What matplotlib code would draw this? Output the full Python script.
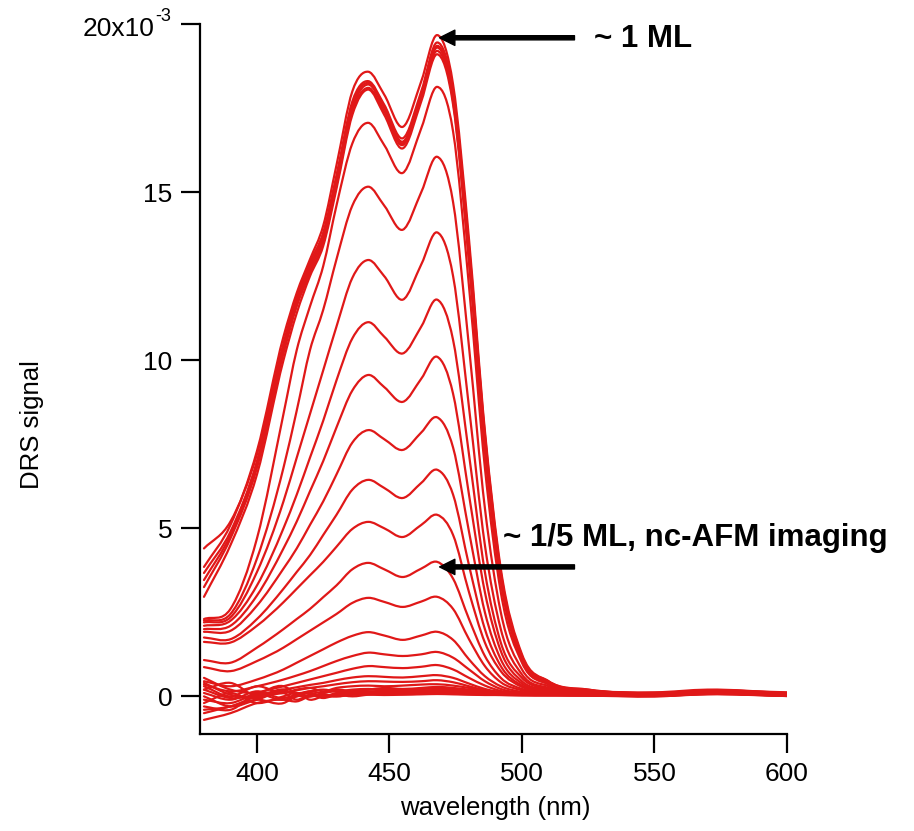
import numpy as np
import matplotlib
matplotlib.use('Agg')
import matplotlib.pyplot as plt
from matplotlib.path import Path
from matplotlib.patches import PathPatch

plt.rcParams['font.family'] = ['Liberation Sans', 'DejaVu Sans']

wavelength = [380, 390, 400, 410, 415, 420, 425, 430, 436, 442, 448, 455,
              462, 468, 474, 480, 486, 492, 500, 510, 525, 550, 570, 600]

# DRS signal in units of 1e-3
# ~1 ML curves (top bundle)
top_curves = [
    [3.85, 5.1, 7.3, 10.7, 12.0, 13.0, 14.0, 15.8, 18.0, 18.58, 17.9, 16.94,
     18.3, 19.67, 18.2, 13.6, 7.9, 3.8, 1.25, 0.45, 0.2, 0.12, 0.2, 0.1],
    [4.4, 5.2, 7.2, 10.5, 11.9, 12.9, 13.8, 15.5, 17.7, 18.3, 17.6, 16.6,
     18.0, 19.45, 18.0, 13.4, 7.8, 3.7, 1.2, 0.45, 0.2, 0.1, 0.18, 0.1],
    [3.67, 4.9, 7.0, 10.4, 11.8, 12.8, 13.7, 15.4, 17.6, 18.25, 17.55, 16.5,
     17.9, 19.35, 17.9, 13.3, 7.7, 3.6, 1.15, 0.42, 0.18, 0.08, 0.16, 0.08],
    [3.46, 4.8, 6.9, 10.3, 11.7, 12.7, 13.6, 15.3, 17.5, 18.2, 17.5, 16.45,
     17.85, 19.3, 17.8, 13.2, 7.6, 3.6, 1.1, 0.4, 0.15, 0.05, 0.14, 0.05],
    [3.25, 4.7, 6.8, 10.2, 11.6, 12.6, 13.5, 15.2, 17.4, 18.1, 17.4, 16.4,
     17.8, 19.2, 17.7, 13.0, 7.4, 3.5, 1.1, 0.4, 0.18, 0.1, 0.17, 0.12],
    [2.96, 4.5, 6.6, 10.0, 11.4, 12.5, 13.4, 15.1, 17.3, 18.05, 17.3, 16.3,
     17.7, 19.1, 17.6, 12.9, 7.3, 3.4, 1.05, 0.38, 0.15, 0.06, 0.15, 0.06],
]

# intermediate coverages
mid_curves = [
    [2.3, 2.6, 4.7, 8.4, 10.3, 11.6, 12.8, 14.6, 16.45, 17.06, 16.4, 15.57,
     16.9, 18.13, 16.8, 12.2, 6.8, 3.1, 1.0, 0.35, 0.15, 0.08, 0.16, 0.08],
    [2.25, 2.45, 4.1, 6.8, 8.5, 10.3, 11.5, 13.0, 14.6, 15.16, 14.6, 13.88,
     15.0, 16.05, 14.7, 10.4, 5.6, 2.5, 0.8, 0.3, 0.12, 0.05, 0.15, 0.07],
    [2.2, 2.35, 3.7, 5.8, 7.1, 8.4, 9.7, 11.0, 12.45, 12.98, 12.5, 11.8,
     12.85, 13.8, 12.5, 8.6, 4.5, 2.0, 0.65, 0.25, 0.12, 0.06, 0.15, 0.08],
    [2.1, 2.25, 3.3, 5.0, 6.0, 7.1, 8.2, 9.4, 10.65, 11.13, 10.7, 10.2,
     11.0, 11.8, 10.6, 7.2, 3.7, 1.6, 0.55, 0.22, 0.1, 0.05, 0.14, 0.06],
    [2.0, 2.1, 3.0, 4.4, 5.2, 6.1, 7.0, 8.0, 9.1, 9.56, 9.2, 8.76,
     9.45, 10.1, 9.0, 6.0, 3.1, 1.35, 0.45, 0.2, 0.1, 0.06, 0.14, 0.07],
    [1.92, 1.95, 2.7, 3.8, 4.4, 5.1, 5.8, 6.6, 7.55, 7.92, 7.65, 7.33,
     7.85, 8.3, 7.4, 4.9, 2.5, 1.1, 0.38, 0.16, 0.1, 0.05, 0.13, 0.06],
    [1.75, 1.7, 2.3, 3.2, 3.7, 4.2, 4.8, 5.4, 6.15, 6.44, 6.2, 5.9,
     6.35, 6.74, 6.0, 3.9, 2.0, 0.9, 0.32, 0.14, 0.08, 0.04, 0.12, 0.05],
    [1.62, 1.6, 2.1, 2.8, 3.2, 3.6, 4.0, 4.45, 4.98, 5.19, 5.0, 4.74,
     5.1, 5.4, 4.8, 3.1, 1.6, 0.75, 0.28, 0.12, 0.08, 0.05, 0.12, 0.05],
    [1.08, 1.0, 1.45, 2.0, 2.3, 2.6, 2.95, 3.3, 3.78, 3.97, 3.78, 3.55,
     3.8, 4.0, 3.5, 2.3, 1.2, 0.55, 0.22, 0.1, 0.06, 0.03, 0.11, 0.04],
    [0.87, 0.75, 1.05, 1.45, 1.7, 1.95, 2.2, 2.45, 2.78, 2.93, 2.81, 2.66,
     2.82, 2.96, 2.6, 1.7, 0.9, 0.42, 0.18, 0.08, 0.05, 0.03, 0.1, 0.04],
    [0.45, 0.3, 0.5, 0.8, 1.0, 1.2, 1.4, 1.6, 1.8, 1.91, 1.81, 1.68,
     1.81, 1.92, 1.68, 1.1, 0.6, 0.3, 0.13, 0.06, 0.04, 0.02, 0.1, 0.03],
    [0.35, 0.15, 0.3, 0.5, 0.62, 0.75, 0.9, 1.05, 1.2, 1.3, 1.25, 1.2,
     1.25, 1.32, 1.15, 0.8, 0.45, 0.22, 0.1, 0.05, 0.03, 0.02, 0.09, 0.03],
    [-0.1, -0.2, 0.1, 0.3, 0.4, 0.5, 0.6, 0.7, 0.82, 0.9, 0.87, 0.84,
     0.88, 0.93, 0.8, 0.55, 0.32, 0.16, 0.08, 0.05, 0.04, 0.02, 0.08, 0.02],
    [0.2, -0.05, 0.05, 0.2, 0.27, 0.34, 0.4, 0.48, 0.56, 0.6, 0.58, 0.56,
     0.6, 0.63, 0.55, 0.38, 0.22, 0.12, 0.06, 0.04, 0.03, 0.02, 0.08, 0.02],
    [-0.4, -0.3, 0.0, 0.1, 0.18, 0.25, 0.3, 0.36, 0.42, 0.45, 0.44, 0.43,
     0.45, 0.48, 0.42, 0.3, 0.18, 0.1, 0.05, 0.03, 0.02, 0.0, 0.07, 0.01],
]

# bare / near-zero spectra
low_curves = [
    [0.55, 0.2, 0.1, 0.3, 0.1, 0.15, 0.1, 0.2, 0.15, 0.2, 0.25, 0.22,
     0.25, 0.28, 0.25, 0.2, 0.15, 0.12, 0.1, 0.08, 0.1, 0.05, 0.12, 0.05],
    [0.2, 0.4, 0.0, 0.2, 0.05, 0.1, 0.0, 0.1, 0.15, 0.2, 0.18, 0.2,
     0.22, 0.25, 0.2, 0.15, 0.12, 0.1, 0.08, 0.06, 0.08, 0.04, 0.1, 0.06],
    [0.0, -0.3, -0.1, 0.1, -0.1, 0.05, -0.05, 0.05, 0.1, 0.12, 0.1, 0.12,
     0.15, 0.18, 0.15, 0.12, 0.1, 0.08, 0.06, 0.05, 0.06, 0.02, 0.08, 0.04],
    [-0.2, 0.1, -0.2, 0.0, 0.1, -0.1, 0.0, 0.05, 0.08, 0.1, 0.12, 0.1,
     0.12, 0.14, 0.12, 0.1, 0.08, 0.07, 0.06, 0.05, 0.05, 0.03, 0.1, 0.03],
    [-0.5, -0.3, -0.1, -0.2, 0.0, 0.0, 0.05, 0.0, 0.05, 0.08, 0.06, 0.08,
     0.1, 0.1, 0.1, 0.08, 0.06, 0.05, 0.04, 0.04, 0.05, 0.02, 0.08, 0.02],
    [-0.7, -0.5, -0.2, -0.1, -0.15, 0.0, 0.0, 0.05, 0.0, 0.05, 0.08, 0.06,
     0.08, 0.1, 0.08, 0.06, 0.05, 0.04, 0.03, 0.03, 0.04, 0.01, 0.07, 0.02],
    [0.3, 0.0, 0.3, 0.1, 0.2, 0.25, 0.15, 0.25, 0.3, 0.32, 0.3, 0.32,
     0.35, 0.36, 0.32, 0.25, 0.18, 0.13, 0.1, 0.08, 0.08, 0.04, 0.11, 0.05],
    [0.1, -0.1, 0.15, -0.05, 0.05, 0.15, 0.2, 0.15, 0.2, 0.22, 0.2, 0.2,
     0.22, 0.24, 0.2, 0.16, 0.12, 0.1, 0.08, 0.06, 0.06, 0.03, 0.09, 0.04],
    [-0.3, -0.4, 0.05, -0.1, 0.0, 0.1, 0.0, 0.0, 0.05, 0.05, 0.04, 0.05,
     0.06, 0.07, 0.06, 0.05, 0.04, 0.04, 0.03, 0.03, 0.03, 0.0, 0.06, 0.01],
    [0.4, 0.05, -0.05, 0.15, 0.05, 0.0, 0.1, 0.15, 0.12, 0.15, 0.14, 0.16,
     0.17, 0.19, 0.17, 0.14, 0.1, 0.08, 0.07, 0.05, 0.06, 0.02, 0.08, 0.03],
]

y_ticks = [0, 5, 10, 15, 20]
y_tick_labels = ['0', '5', '10', '15', '']
x_ticks = [400, 450, 500, 550, 600]


def smooth_path(x, y):
    # cubic Hermite through the read points, drawn as Bezier segments
    x = np.asarray(x, float)
    y = np.asarray(y, float)
    m = np.gradient(y, x)
    verts = [(x[0], y[0])]
    codes = [Path.MOVETO]
    for i in range(len(x) - 1):
        h = x[i + 1] - x[i]
        verts += [(x[i] + h / 3, y[i] + m[i] * h / 3),
                  (x[i + 1] - h / 3, y[i + 1] - m[i + 1] * h / 3),
                  (x[i + 1], y[i + 1])]
        codes += [Path.CURVE4] * 3
    return Path(verts, codes)


fig = plt.figure(figsize=(9.14, 8.31), dpi=100)
ax = fig.add_axes([200 / 914, 97 / 831, 587 / 914, 710 / 831])

red = '#e01818'
for curve in low_curves + mid_curves + top_curves:
    ax.add_patch(PathPatch(smooth_path(wavelength, curve), fill=False,
                           edgecolor=red, lw=1.6, capstyle='round',
                           joinstyle='round'))

ax.set_xlim(378.5, 600)
ax.set_ylim(-1.12, 20)
ax.set_xticks(x_ticks)
ax.set_yticks(y_ticks)
ax.set_yticklabels(y_tick_labels)
for side in ['top', 'right']:
    ax.spines[side].set_visible(False)
for side in ['left', 'bottom']:
    ax.spines[side].set_linewidth(1.6)
ax.tick_params(direction='out', length=14, width=1.6, labelsize=19, pad=6)

# top tick label with its exponent, as drawn in the original
ax.annotate('20x10', xy=(0, 20), xycoords=('axes fraction', 'data'),
            xytext=(-45, -5), textcoords='offset pixels', fontsize=19,
            ha='right', va='center')
ax.annotate('-3', xy=(0, 20), xycoords=('axes fraction', 'data'),
            xytext=(-45, 8), textcoords='offset pixels', fontsize=13,
            ha='left', va='center')

fig.text(495 / 914, 1 - 808 / 831, 'wavelength (nm)', fontsize=18.5,
         ha='center', va='center')
fig.text(32 / 914, 1 - 425 / 831, 'DRS signal', fontsize=18.5, rotation=90,
         ha='center', va='center')

arrow_style = dict(facecolor='black', edgecolor='black', width=3,
                   headwidth=11, headlength=11, shrink=0)
ax.annotate('', xy=(468.9, 19.59), xytext=(519.8, 19.59),
            arrowprops=arrow_style)
ax.annotate('', xy=(468.9, 3.85), xytext=(519.8, 3.85),
            arrowprops=arrow_style)
ax.text(527.3, 19.56, '~ 1 ML', fontsize=22.5, fontweight='bold',
        ha='left', va='center')
ax.text(492.7, 4.71, '~ 1/5 ML, nc-AFM imaging', fontsize=22.5,
        fontweight='bold', ha='left', va='center')

fig.savefig('out.png', dpi=100, facecolor='white')
